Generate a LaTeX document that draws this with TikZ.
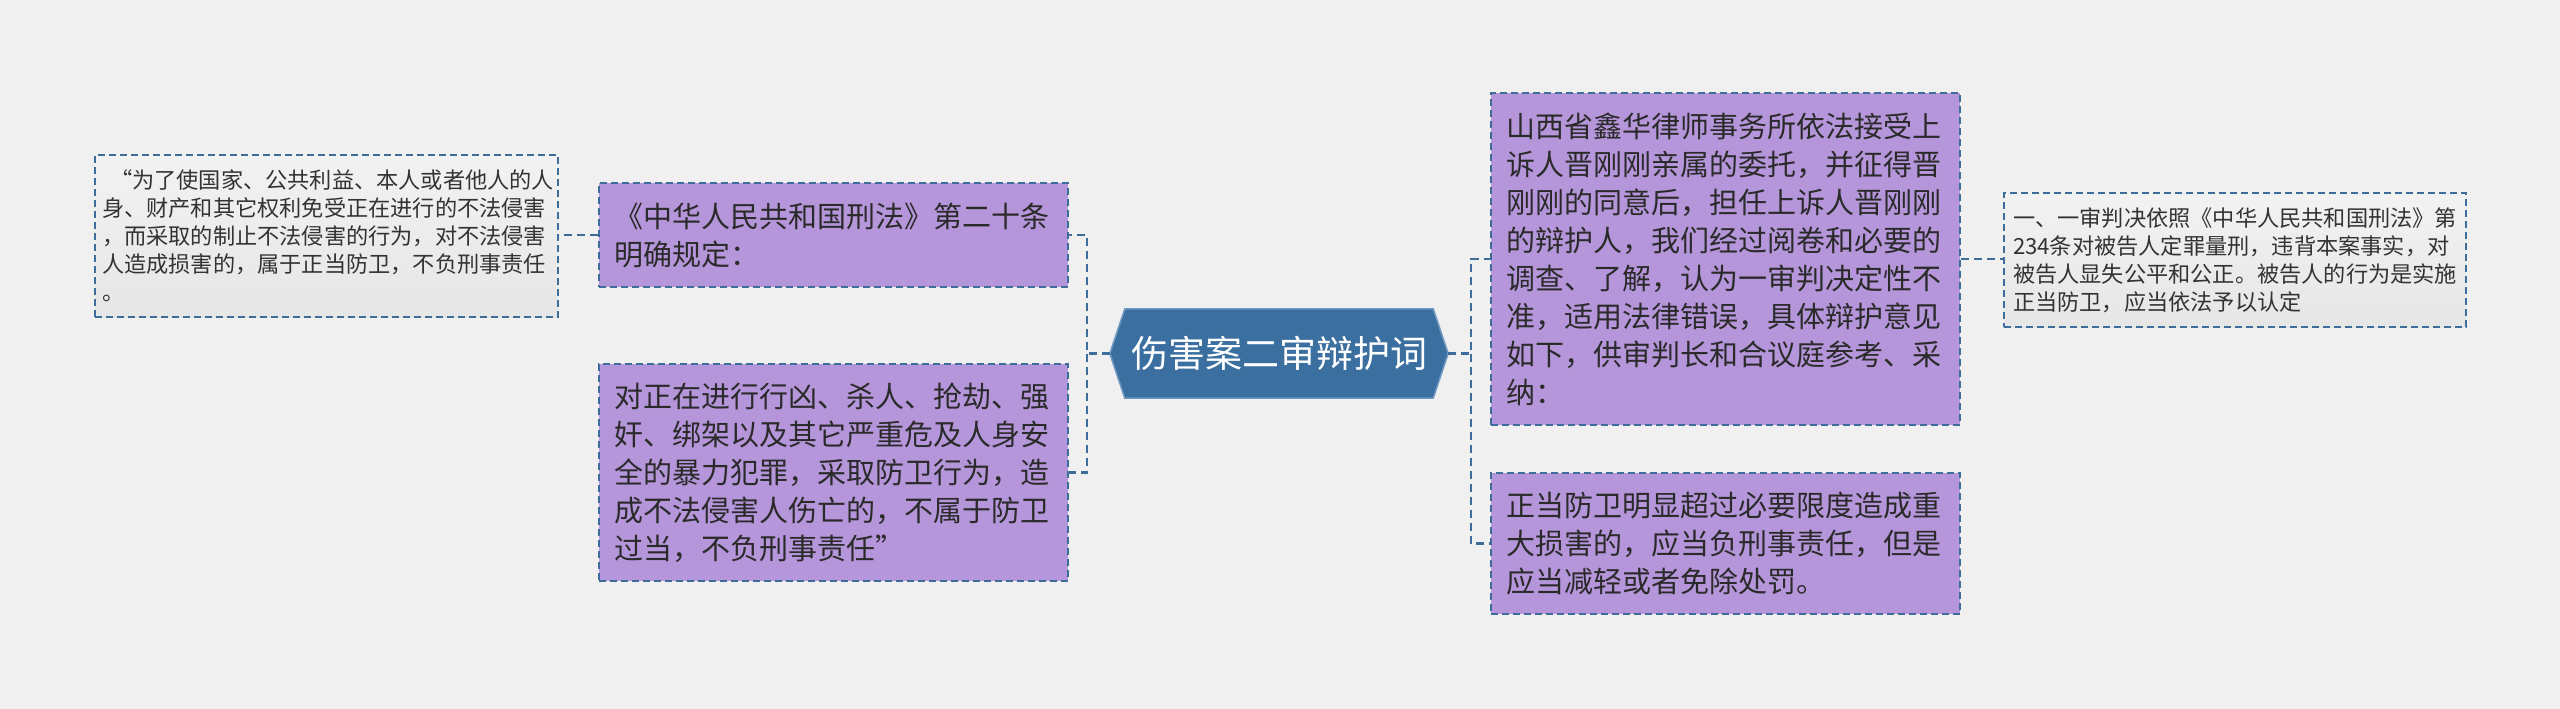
\documentclass[tikz,border=0pt]{standalone}
\usepackage{fontspec}
\setmainfont{Noto Sans CJK SC}
\usetikzlibrary{calc,backgrounds}
\definecolor{bg}{HTML}{F0F0F0}
\definecolor{pfill}{HTML}{B596DA}
\definecolor{edge}{HTML}{3E6D9C}
\definecolor{hexfill}{HTML}{3B6FA0}
\definecolor{hexline}{HTML}{6F98C2}
\definecolor{gtop}{HTML}{F2F2F2}
\definecolor{gbot}{HTML}{E6E6E6}
\definecolor{ptext}{HTML}{2A2A2A}
\definecolor{gtext}{HTML}{333333}
\begin{document}
\begin{tikzpicture}[x=1pt,y=-1pt,
  dashedge/.style={draw=edge, line width=2pt, dash pattern=on 7pt off 4pt},
  pbox/.style={dashedge, fill=pfill, text=ptext, minimum width=469pt,
    inner xsep=15pt, inner ysep=0pt, text width=439pt, align=left,
    font=\fontsize{29pt}{38pt}\selectfont},
  gbox/.style={dashedge, top color=gtop, bottom color=gbot, text=gtext,
    minimum width=463pt, inner ysep=0pt, align=left,
    font=\fontsize{22.2pt}{28pt}\selectfont},
  hexnode/.style={minimum width=338pt, minimum height=89pt, inner sep=0pt,
    text=white, font=\fontsize{37pt}{44pt}\selectfont},
  conn/.style={draw=edge, line width=2.5pt, dash pattern=on 8pt off 5pt}
]
\begin{scope}[on background layer]
  \fill[bg] (0,0) rectangle (2560,709);
\end{scope}
\useasboundingbox (0,0) rectangle (2560,709);

% central node
\node[hexnode] (hex) at (1279,353.5) {伤害案二审辩护词};
\begin{scope}[on background layer]
  \filldraw[fill=hexfill, draw=hexline, line width=1.5pt]
    (hex.west) -- ($(hex.north west)+(15,0)$) -- ($(hex.north east)+(-15,0)$)
    -- (hex.east) -- ($(hex.south east)+(-15,0)$) -- ($(hex.south west)+(15,0)$) -- cycle;
\end{scope}

% left side
\node[pbox, minimum height=104pt] (p1) at (833.5,235)
  {《中华人民共和国刑法》第二十条\\明确规定：};
\node[pbox, minimum height=217pt] (p2) at (833.5,472.5)
  {对正在进行行凶、杀人、抢劫、强\\奸、绑架以及其它严重危及人身安\\全的暴力犯罪，采取防卫行为，造\\成不法侵害人伤亡的，不属于防卫\\过当，不负刑事责任”};
\node[gbox, minimum height=162pt, inner xsep=7pt, text width=449pt] (gl) at (326.5,236)
  {\hspace*{8pt}“为了使国家、公共利益、本人或者他人的人\\身、财产和其它权利免受正在进行的不法侵害\\，而采取的制止不法侵害的行为，对不法侵害\\人造成损害的，属于正当防卫，不负刑事责任\\。};

% right side
\node[pbox, minimum height=332pt] (r1) at (1725.5,259)
  {山西省鑫华律师事务所依法接受上\\诉人晋刚刚亲属的委托，并征得晋\\刚刚的同意后，担任上诉人晋刚刚\\的辩护人，我们经过阅卷和必要的\\调查、了解，认为一审判决定性不\\准，适用法律错误，具体辩护意见\\如下，供审判长和合议庭参考、采\\纳：};
\node[pbox, minimum height=141pt] (r2) at (1725.5,543.5)
  {正当防卫明显超过必要限度造成重\\大损害的，应当负刑事责任，但是\\应当减轻或者免除处罚。};
\node[gbox, minimum width=462pt, minimum height=134pt, inner xsep=9pt, text width=444pt] (gr) at (2235,260)
  {一、一审判决依照《中华人民共和国刑法》第\\234条对被告人定罪量刑，违背本案事实，对\\被告人显失公平和公正。被告人的行为是实施\\正当防卫，应当依法予以认定};

% connectors
\coordinate (jl) at (1087,353.5);
\coordinate (jr) at (1471,353.5);
\draw[conn] (hex.west) -- (jl) |- (p1.east);
\draw[conn] (jl) |- (p2.east);
\draw[conn] (p1.west) -- (p1.west -| gl.east);
\draw[conn] (hex.east) -- (jr) |- (r1.west);
\draw[conn] (jr) |- (r2.west);
\draw[conn] (r1.east) -- (r1.east -| gr.west);
\end{tikzpicture}
\end{document}
